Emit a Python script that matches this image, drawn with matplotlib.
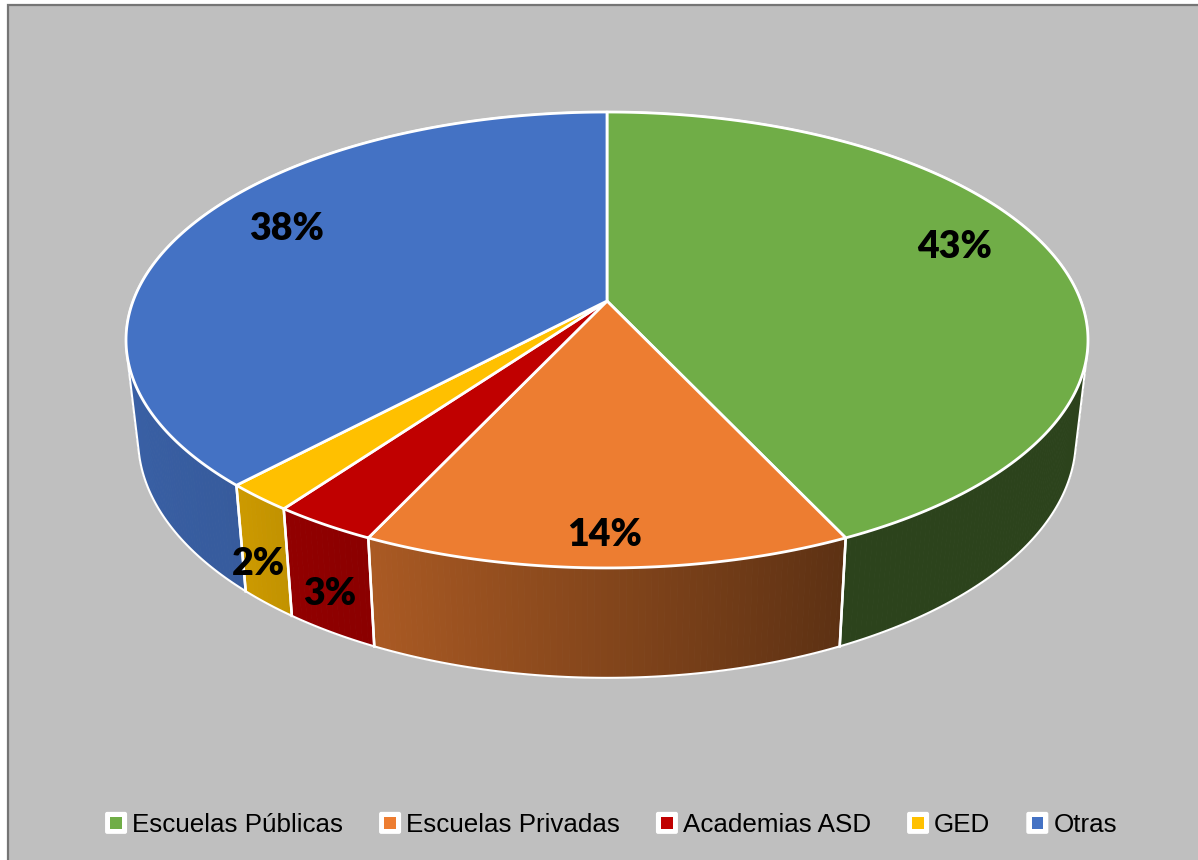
import numpy as np
import matplotlib
matplotlib.use("Agg")
import matplotlib.pyplot as plt
from matplotlib.patches import Polygon, Rectangle, FancyBboxPatch
from matplotlib.collections import PolyCollection
from matplotlib.legend_handler import HandlerBase
from matplotlib.colors import to_rgb

# data
categories = ["Escuelas Públicas", "Escuelas Privadas", "Academias ASD", "GED", "Otras"]
values = [43, 14, 3, 2, 38]
colors = ["#70AD47", "#ED7D31", "#C00000", "#FFC000", "#4472C4"]
label_xy = [(955, 247), (605, 535), (330, 594), (258, 564), (287, 229)]

# projection of the tilted disc (pixel space of the reference)
CX, APEX_Y = 607, 301
K = 0.171
AX_T, AY_T = 473.9, 221.3
AX_B, AY_B, BASE_Y = 462.0, 232.0, 398.0


def top_pt(t):
    w = 1 + K * np.cos(t)
    return CX + AX_T * np.sin(t) / w, APEX_Y - AY_T * np.cos(t) / w


def bot_pt(t):
    w = 1 + K * np.cos(t)
    return CX + AX_B * np.sin(t) / w, BASE_Y - AY_B * np.cos(t) / w


def shade(t):
    return np.interp(np.degrees(t), [0, 154.8, 205, 216, 223, 260, 360],
                     [.39, .39, .72, .76, .80, .85, .85])


def convex_hull(points):
    pts = sorted(map(tuple, points))

    def half(seq):
        out = []
        for p in seq:
            while len(out) > 1 and ((out[-1][0] - out[-2][0]) * (p[1] - out[-2][1])
                                    - (out[-1][1] - out[-2][1]) * (p[0] - out[-2][0])) <= 0:
                out.pop()
            out.append(p)
        return out[:-1]

    return np.array(half(pts) + half(pts[::-1]))


fig = plt.figure(figsize=(11.98, 8.6), dpi=100, facecolor="white")
ax = fig.add_axes([0, 0, 1, 1])
ax.set_xlim(0, 1198)
ax.set_ylim(860, 0)
ax.axis("off")
ax.add_patch(Rectangle((7.5, 4.5), 1300, 1000, fc="#BFBFBF", ec="#757575", lw=1.6, zorder=0))

fr = np.cumsum([0] + values) / sum(values) * 2 * np.pi
EDGE = "#FFFFFF"
tang = np.arccos(-K)  # angle of widest extent of the ellipse

# sides (only the visible front part of the wall)
for i, col in enumerate(colors):
    a, b = max(fr[i], tang), min(fr[i + 1], 2 * np.pi - tang)
    ts = np.linspace(a, b, max(8, int((b - a) * 90)))
    quads, fcs = [], []
    base = np.array(to_rgb(col))
    for t0, t1 in zip(ts[:-1], ts[1:]):
        quads.append([top_pt(t0), top_pt(t1), bot_pt(t1), bot_pt(t0)])
        fcs.append(tuple(base * shade((t0 + t1) / 2)))
    ax.add_collection(PolyCollection(quads, facecolors=fcs, edgecolors=fcs, linewidths=.6, zorder=2))
    # vertical separators on the visible front
    for t in (fr[i], fr[i + 1]):
        if tang < t < 2 * np.pi - tang:
            p, q = top_pt(t), bot_pt(t)
            ax.plot([p[0], q[0]], [p[1], q[1]], color=EDGE, lw=1.8, zorder=3)

# outer outline of the whole solid
ts = np.linspace(0, 2 * np.pi, 900)
hull = convex_hull(np.vstack([np.column_stack(top_pt(ts)), np.column_stack(bot_pt(ts))]))
ax.add_patch(Polygon(hull, closed=True, fill=False, ec=EDGE, lw=1.5, zorder=3))

# top face
for i, col in enumerate(colors):
    ts = np.linspace(fr[i], fr[i + 1], 200)
    x, y = top_pt(ts)
    pts = np.column_stack([np.r_[CX, x], np.r_[APEX_Y, y]])
    ax.add_patch(Polygon(pts, closed=True, fc=col, ec=EDGE, lw=2.0, joinstyle="round", zorder=4))

# labels
for v, (lx, ly) in zip(values, label_xy):
    ax.text(lx, ly, f"{v}%", ha="center", va="center", family="Lato", weight="heavy",
            fontsize=27, color="black", zorder=6)


class SwatchHandler(HandlerBase):
    def create_artists(self, legend, orig, xd, yd, width, height, fontsize, trans):
        h = 22 * 0.72
        y0 = (height - h) / 2 - yd
        box = FancyBboxPatch((-xd + 1.5, y0 + 1.5), h - 3, h - 3, boxstyle="round,pad=1.5",
                             fc="white", ec="white", lw=0, transform=trans)
        s = 11.5 * 0.72
        inner = Rectangle((-xd + (h - s) / 2, y0 + (h - s) / 2), s, s,
                          fc=orig.get_facecolor(), ec="none", transform=trans)
        return [box, inner]


handles = [Rectangle((0, 0), 1, 1, fc=c) for c in colors]
fs = 18.7
leg = ax.legend(handles, categories, loc="center", bbox_to_anchor=(611, 824),
                bbox_transform=ax.transData, ncol=5, frameon=False,
                prop={"family": "Liberation Sans", "size": fs},
                handler_map={Rectangle: SwatchHandler()},
                handlelength=22 * 0.72 / fs, handleheight=1.0,
                handletextpad=5 * 0.72 / fs, columnspacing=36 * 0.72 / fs,
                borderpad=0, borderaxespad=0)
leg.set_zorder(6)

fig.savefig("out.png", dpi=100)
